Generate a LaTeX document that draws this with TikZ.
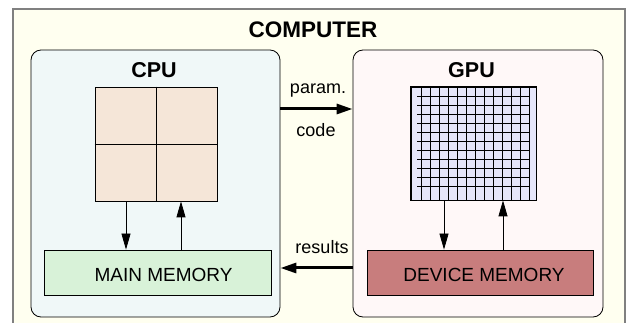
\documentclass[tikz,border=0pt]{standalone}
\usepackage{fontspec}
\setmainfont{Liberation Sans}
\usetikzlibrary{arrows.meta}

\definecolor{shellfill}{HTML}{FFFFF0}
\definecolor{shellline}{HTML}{808080}
\definecolor{cpufill}{HTML}{F0F8F8}
\definecolor{gpufill}{HTML}{FFF8F8}
\definecolor{corefill}{HTML}{F5E6D8}
\definecolor{gridfill}{HTML}{E6E6FA}
\definecolor{mainfill}{HTML}{D8F2D8}
\definecolor{devfill}{HTML}{C87D7D}

\tikzset{
  panel/.style={draw=black, line width=0.8pt, rounded corners=10pt, inner sep=0pt},
  block/.style={draw=black, line width=0.8pt, inner sep=0pt},
  memlabel/.style={font=\fontsize{19}{22}\selectfont},
  headlabel/.style={font=\fontsize{21.5}{24}\selectfont\bfseries},
  titlelabel/.style={font=\fontsize{22.5}{26}\selectfont\bfseries},
  linklabel/.style={font=\fontsize{18}{21}\selectfont},
  gridline/.style={line width=0.7pt},
  thinarrow/.style={line width=0.8pt, -{Triangle[length=16pt,width=9pt]}},
  thickarrow/.style={line width=3pt, -{Triangle[length=16pt,width=10pt]}},
}

\begin{document}
\begin{tikzpicture}[x=1pt,y=-1pt]
\useasboundingbox (0,0) rectangle (627,323);
\clip (0,0) rectangle (627,323);

% enclosing computer frame, open at the bottom
\fill[shellfill] (13,9) rectangle (625,330);
\draw[shellline, line width=1.2pt] (13,330) -- (13,9) -- (625,9) -- (625,330);
\node[titlelabel] (title) at (313,29.7) {COMPUTER};

% host side
\node[panel, fill=cpufill, minimum width=249pt, minimum height=267pt] (cpu) at (155.5,183.5) {};
\node[headlabel] (cpulabel) at (154,70.5) {CPU};
\node[block, fill=corefill, minimum width=122pt, minimum height=114pt] (core) at (156,144) {};
\draw[line width=0.8pt] (core.north) -- (core.south);
\draw[line width=0.8pt] (core.west) -- (core.east);
\node[block, fill=mainfill, minimum width=227pt, minimum height=45pt] (mainmem) at (157.5,272.5) {};
\node[memlabel] (maintext) at (163.5,275) {MAIN MEMORY};
\draw[thinarrow] (126,0 |- core.south) -- (126,0 |- mainmem.north);
\draw[thinarrow] (181,0 |- mainmem.north) -- (181,0 |- core.south);

% device side
\node[panel, fill=gpufill, minimum width=250pt, minimum height=267pt] (gpu) at (478,183.5) {};
\node[headlabel] (gpulabel) at (471.5,70.5) {GPU};
\node[block, fill=gridfill, minimum width=125pt, minimum height=113pt] (sm) at (473.5,143.5) {};
\foreach \k in {0,...,12}
  \draw[gridline] (421+9*\k,0 |- sm.north) -- (421+9*\k,0 |- sm.south);
\foreach \k in {0,...,10}
  \draw[gridline] (417,96+9*\k) -- (530,96+9*\k);
\draw[line width=0.8pt] (sm.south west) rectangle (sm.north east);
\node[block, fill=devfill, minimum width=226pt, minimum height=45pt] (devmem) at (480,272.5) {};
\node[memlabel] (devtext) at (484,275) {DEVICE MEMORY};
\draw[thinarrow] (444,0 |- sm.south) -- (444,0 |- devmem.north);
\draw[thinarrow] (503,0 |- devmem.north) -- (503,0 |- sm.south);

% host <-> device transfers
\draw[thickarrow] (cpu.east |- 0,109) -- (gpu.west |- 0,109);
\node[linklabel] (param) at (318,91) {param.};
\node[linklabel] (code) at (316,130) {code};
\draw[thickarrow] (gpu.west |- 0,268) -- (cpu.east |- 0,268);
\node[linklabel] (results) at (322,247) {results};
\end{tikzpicture}
\end{document}
